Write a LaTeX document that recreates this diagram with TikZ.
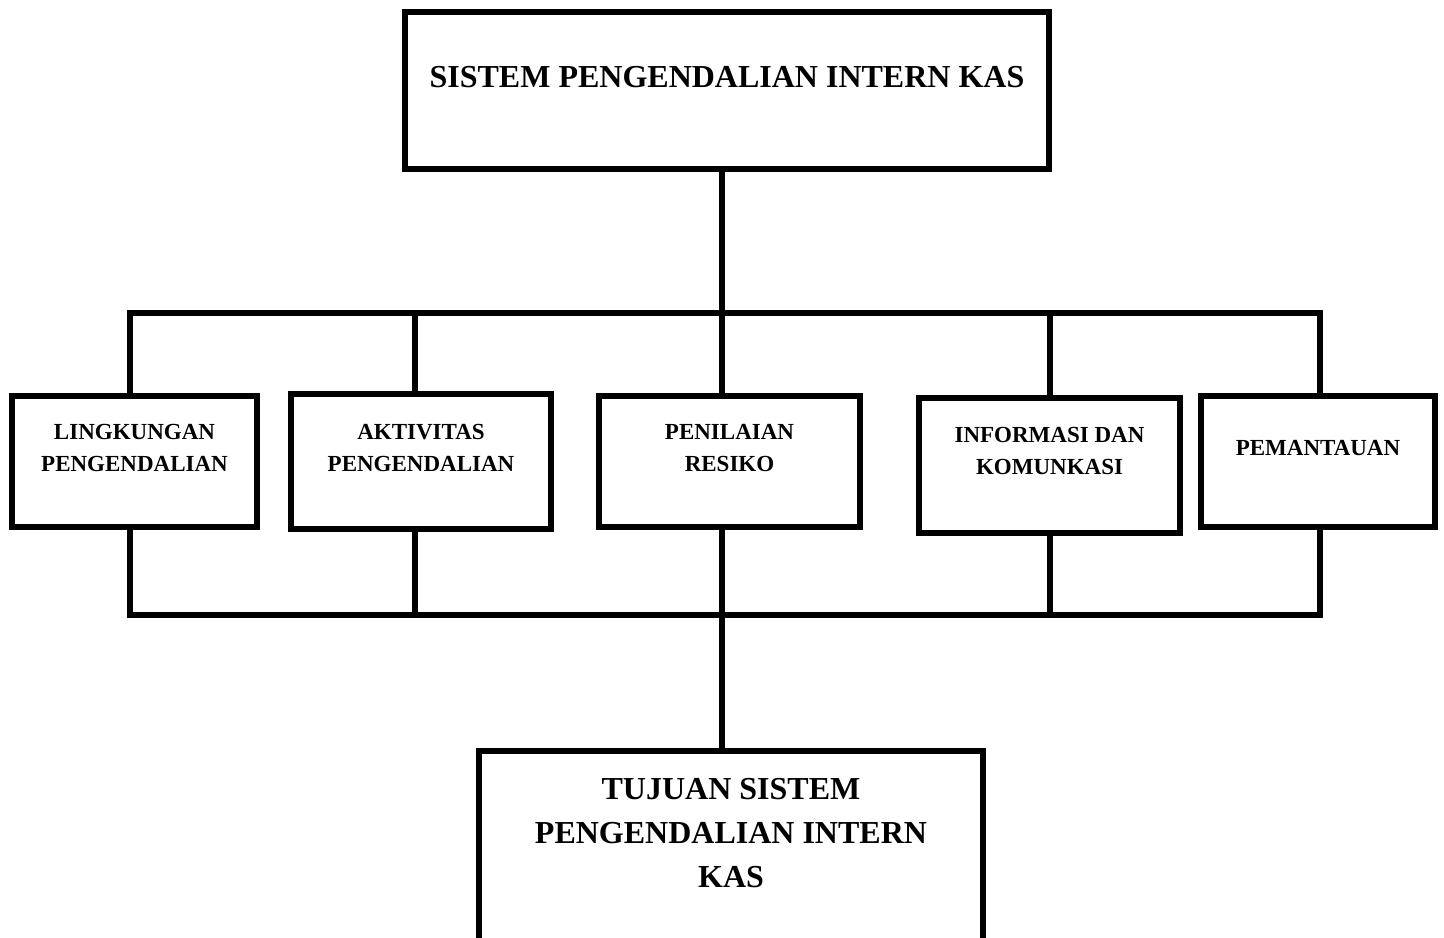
\documentclass[tikz,border=0pt]{standalone}
\usepackage{fontspec}
\setmainfont{Liberation Serif}
\begin{document}
\begin{tikzpicture}[x=0.5pt,y=-0.5pt,
  box/.style={draw, line width=3pt, rectangle, inner sep=0pt},
  conn/.style={line width=2.6pt},
  big/.style={font=\bfseries\fontsize{16}{22}\selectfont, align=center, inner sep=0pt},
  small/.style={font=\bfseries\fontsize{11.5}{16}\selectfont, align=center, inner sep=0pt}]
\useasboundingbox (0,0) rectangle (1444,937);
\clip (0,0) rectangle (1444,937);
\fill[white] (0,0) rectangle (1444,937);
% boxes
\node[box, minimum width=322pt, minimum height=78.5pt] (top) at (727,90.5) {};
\node[box, minimum width=122.5pt, minimum height=65.5pt] (b1) at (134.5,461.5) {};
\node[box, minimum width=130pt, minimum height=67.5pt] (b2) at (421,461.5) {};
\node[box, minimum width=130.5pt, minimum height=65.5pt] (b3) at (729.5,461.5) {};
\node[box, minimum width=130.5pt, minimum height=67.5pt] (b4) at (1049.5,465.5) {};
\node[box, minimum width=117pt, minimum height=65.5pt] (b5) at (1318,461.5) {};
\node[box, minimum width=252pt, minimum height=104.5pt] (bot) at (731,855.5) {};
% texts
\node[big] (t0) at (727,77) {SISTEM PENGENDALIAN INTERN KAS};
\node[small] (t1) at (134.5,448) {LINGKUNGAN\\PENGENDALIAN};
\node[small] (t2) at (421,448) {AKTIVITAS\\PENGENDALIAN};
\node[small] (t3) at (729.5,448) {PENILAIAN\\RESIKO};
\node[small] (t4) at (1049.5,451) {INFORMASI DAN\\KOMUNKASI};
\node[small] (t5) at (1318,448) {PEMANTAUAN};
\node[big] (t6) at (731,833) {TUJUAN SISTEM\\PENGENDALIAN INTERN\\KAS};
% bus coordinates
\coordinate (u1) at (130,313);
\coordinate (u2) at (415,313);
\coordinate (u3) at (722,313);
\coordinate (u4) at (1050,313);
\coordinate (u5) at (1320,313);
\coordinate (d1) at (130,615);
\coordinate (d2) at (415,615);
\coordinate (d3) at (722,615);
\coordinate (d4) at (1050,615);
\coordinate (d5) at (1320,615);
% connectors
\draw[conn] (top.south -| u3) -- (u3);
\draw[conn, line cap=rect] (u1) -- (u5);
\draw[conn, line cap=rect] (d1) -- (d5);
\foreach \i in {1,...,5}{
  \draw[conn] (u\i) -- (u\i |- b\i.north);
  \draw[conn] (b\i.south -| d\i) -- (d\i);
}
\draw[conn] (d3) -- (d3 |- bot.north);
\end{tikzpicture}
\end{document}
